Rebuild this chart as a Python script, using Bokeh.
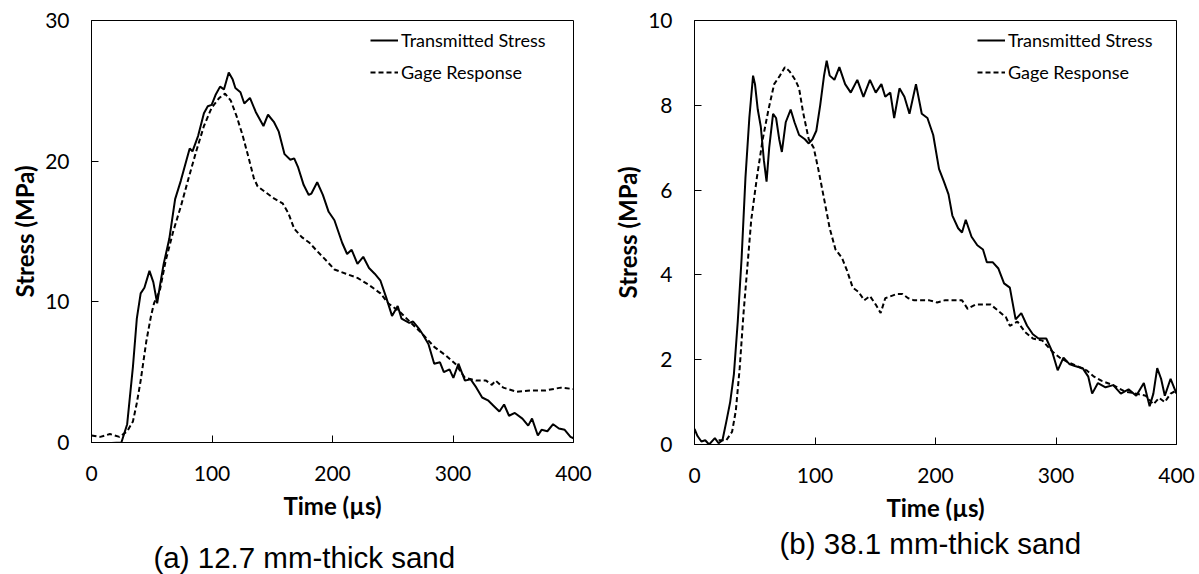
from bokeh.plotting import figure
from bokeh.layouts import row
from bokeh.models import Range1d, Legend, LegendItem, FixedTicker, Title
from bokeh.embed import file_html
from bokeh.resources import INLINE

# ---- Panel (a): 12.7 mm-thick sand ----
a_trans_t = [0, 24.8, 29.6, 34.4, 37.6, 40.8, 43.9, 48.1, 51.3, 54.5, 56.7, 59.9, 64.6, 69.4, 74.1, 78.9, 81.5,
             83.8, 88.5, 93.3, 96.5, 99.7, 102.9, 106.7, 109.9, 113.9, 117.2, 119.4, 123.6, 126.8, 131.5, 136.3,
             142.7, 146.5, 151.3, 155.4, 160.2, 165.0, 168.2, 171.3, 176.1, 180.3, 182.5, 187.3, 192.0, 196.8,
             201.6, 204.8, 208.0, 212.1, 215.9, 220.7, 225.5, 230.3, 235.0, 239.8, 244.6, 249.4, 254.1, 257.3,
             263.7, 266.9, 271.7, 274.8, 279.6, 284.4, 289.2, 292.4, 297.1, 300.3, 304.5, 309.9, 314.6, 319.4,
             324.2, 329.0, 333.8, 338.5, 342.4, 346.5, 351.3, 357.6, 362.4, 365.6, 370.4, 373.5, 378.3, 383.1,
             387.9, 392.7, 397.5, 400]
a_trans_s = [-0.1, 0.0, 1.3, 5.4, 8.8, 10.6, 11.0, 12.2, 11.4, 9.9, 11.1, 12.7, 14.5, 17.3, 18.6, 20.1, 20.9,
             20.7, 21.8, 23.4, 23.9, 24.0, 24.7, 25.3, 25.1, 26.3, 25.8, 25.2, 24.9, 24.1, 24.5, 23.5,
             22.5, 23.3, 22.8, 22.1, 20.5, 20.1, 20.2, 19.6, 18.3, 17.6, 17.7, 18.5, 17.6, 16.4,
             15.8, 15.0, 14.2, 13.4, 13.7, 12.7, 13.2, 12.4, 12.0, 11.5, 10.3, 9.0, 9.7, 8.8,
             8.5, 8.6, 8.1, 7.7, 7.0, 5.6, 5.7, 5.0, 5.2, 4.6, 5.6, 4.4, 4.5, 3.9,
             3.2, 3.0, 2.6, 2.2, 2.7, 1.9, 2.1, 1.7, 1.2, 1.7, 0.5, 0.9, 0.8, 1.3,
             1.0, 0.9, 0.4, 0.3]
a_gage_t = [0, 7.3, 15.3, 23.2, 29.6, 34.4, 37.6, 40.8, 45.5, 49.4, 51.9, 56.7, 61.5, 67.8, 74.2, 80.6, 86.9,
            93.3, 99.7, 106.1, 110.8, 115.6, 120.4, 125.2, 129.9, 134.7, 137.9, 144.3, 150.6, 158.6, 163.4,
            168.2, 174.5, 180.9, 187.3, 195.2, 201.6, 211.1, 220.7, 230.3, 239.8, 246.2, 255.7, 265.3, 274.8,
            284.4, 293.9, 301.9, 309.9, 319.4, 327.4, 332.2, 335.4, 341.7, 352.9, 364.0, 376.8, 389.5, 400]
a_gage_s = [0.5, 0.4, 0.6, 0.4, 0.8, 1.5, 2.8, 4.4, 7.2, 9.0, 9.9, 10.8, 12.9, 15.0, 16.8, 18.8, 20.7,
            22.5, 23.8, 24.5, 24.8, 24.3, 23.2, 21.9, 20.4, 18.8, 18.2, 17.8, 17.4, 17.0, 16.3,
            15.2, 14.6, 14.2, 13.6, 12.9, 12.3, 12.0, 11.7, 11.2, 10.6, 9.9, 9.3, 8.5, 7.7,
            6.8, 6.2, 5.6, 4.6, 4.4, 4.4, 4.1, 4.4, 3.9, 3.6, 3.7, 3.7, 3.9, 3.8]

# ---- Panel (b): 38.1 mm-thick sand ----
b_trans_t = [0, 2.5, 5.7, 8.9, 12.1, 16.9, 20.0, 23.2, 26.4, 29.6, 32.7, 35.9, 39.1, 42.3, 45.5, 48.6, 50.2,
             52.5, 55.0, 57.6, 59.8, 62.0, 65.2, 67.7, 70.3, 72.5, 75.7, 79.8, 83.0, 86.8, 91.6, 94.8, 97.9,
             101.1, 104.3, 107.5, 109.7, 112.2, 116.1, 120.2, 125.0, 129.7, 135.1, 140.2, 145.6, 150.4, 155.1,
             158.3, 162.5, 165.7, 170.1, 174.2, 178.4, 183.8, 188.6, 193.3, 198.1, 202.9, 207.0, 210.8, 214.0,
             218.8, 222.0, 225.1, 229.9, 234.7, 239.4, 242.6, 247.4, 252.2, 256.9, 261.7, 266.5, 271.2, 276.0,
             280.8, 285.5, 291.9, 296.7, 301.4, 306.2, 311.0, 315.7, 322.1, 326.8, 330.0, 334.8, 341.1, 347.5,
             353.8, 360.2, 366.6, 372.9, 377.7, 380.8, 384.0, 387.2, 390.3, 395.1, 400]
b_trans_s = [0.37, 0.2, 0.07, 0.1, 0.0, 0.15, 0.03, 0.1, 0.54, 1.0, 1.66, 2.9, 4.4, 6.3, 7.7, 8.7, 8.5,
             7.9, 7.5, 6.7, 6.2, 7.0, 7.8, 7.7, 7.2, 6.9, 7.6, 7.9, 7.6, 7.3, 7.2, 7.1, 7.2,
             7.4, 8.0, 8.7, 9.05, 8.7, 8.6, 8.9, 8.5, 8.3, 8.6, 8.2, 8.6, 8.3, 8.5,
             8.2, 8.3, 7.7, 8.4, 8.2, 7.8, 8.5, 7.8, 7.7, 7.3, 6.5, 6.2, 5.9, 5.4,
             5.1, 5.0, 5.3, 4.9, 4.7, 4.6, 4.3, 4.3, 4.15, 3.8, 3.7, 2.95, 3.1, 2.8,
             2.6, 2.5, 2.5, 2.2, 1.75, 2.05, 1.9, 1.85, 1.8, 1.6, 1.2, 1.45, 1.35, 1.4,
             1.2, 1.3, 1.15, 1.45, 0.9, 1.2, 1.8, 1.55, 1.15, 1.55, 1.2]
b_gage_t = [20.0, 26.4, 31.2, 34.3, 37.5, 40.7, 43.9, 47.1, 51.8, 56.6, 61.4, 66.1, 70.9, 75.0, 78.9, 83.6,
            86.8, 90.0, 94.8, 98.9, 102.7, 107.5, 112.2, 117.0, 122.4, 126.6, 131.3, 136.1, 140.9, 145.6,
            150.4, 154.5, 158.3, 163.1, 167.9, 172.6, 177.4, 182.2, 188.6, 194.9, 201.3, 207.6, 215.6,
            222.0, 226.7, 233.1, 239.4, 245.8, 252.2, 258.5, 261.7, 268.0, 274.4, 280.8, 288.7, 296.7,
            303.0, 309.4, 317.3, 325.3, 331.6, 338.0, 347.5, 357.1, 366.6, 374.5, 380.8, 385.6, 390.3,
            395.1, 398.4]
b_gage_s = [0.1, 0.1, 0.3, 0.8, 1.8, 3.1, 4.2, 5.3, 6.3, 7.2, 7.9, 8.5, 8.7, 8.9, 8.8, 8.6,
            8.4, 7.85, 7.2, 7.0, 6.5, 5.8, 5.1, 4.6, 4.4, 4.1, 3.7, 3.6, 3.4, 3.5,
            3.3, 3.1, 3.45, 3.5, 3.55, 3.55, 3.45, 3.4, 3.4, 3.4, 3.35, 3.4, 3.4,
            3.4, 3.2, 3.3, 3.3, 3.3, 3.15, 3.0, 2.8, 2.9, 2.65, 2.5, 2.45, 2.2,
            2.05, 1.95, 1.85, 1.75, 1.6, 1.5, 1.4, 1.25, 1.2, 1.15, 0.95, 1.1, 1.0,
            1.2, 1.25]

x_ticks = [0, 100, 200, 300, 400]
a_y_ticks = [0, 10, 20, 30]
b_y_ticks = [0, 2, 4, 6, 8, 10]
legend_labels = ["Transmitted Stress", "Gage Response"]
captions = ["(a) 12.7 mm-thick sand", "(b) 38.1 mm-thick sand"]

FONT = "Lato"
TOTAL_H = 572


def make_panel(bl, br, bt, fh, ymax, yticks, tt, ts, gt, gs, caption, cap_off, cap_standoff, leg_xy):
    p = figure(frame_width=482, frame_height=fh, output_backend="svg", toolbar_location=None,
               x_range=Range1d(0, 400), y_range=Range1d(0, ymax),
               min_border_left=bl, min_border_right=br, min_border_top=bt,
               min_border_bottom=TOTAL_H - bt - fh)
    p.grid.visible = False
    p.outline_line_color = "black"
    p.outline_line_alpha = 1.0
    p.outline_line_width = 1
    for ax in (p.xaxis[0], p.yaxis[0]):
        ax.major_tick_in = 7
        ax.major_tick_out = 0
        ax.minor_tick_in = 0
        ax.minor_tick_out = 0
        ax.axis_line_color = "black"
        ax.major_tick_line_color = "black"
        ax.major_label_text_font = FONT
        ax.major_label_text_font_size = "21px"
        ax.major_label_text_color = "black"
        ax.axis_label_text_font = FONT
        ax.axis_label_text_font_style = "bold"
        ax.axis_label_text_font_size = "24px"
        ax.axis_label_text_color = "black"
    p.xaxis.ticker = FixedTicker(ticks=x_ticks)
    p.yaxis.ticker = FixedTicker(ticks=yticks)
    p.xaxis.axis_label = "Time (µs)"
    p.yaxis.axis_label = "Stress (MPa)"
    p.xaxis.major_label_standoff = 23
    p.yaxis.major_label_standoff = 22
    p.xaxis.axis_label_standoff = 7
    p.yaxis.axis_label_standoff = 3

    r1 = p.line(tt, ts, line_color="black", line_width=2)
    r2 = p.line(gt, gs, line_color="black", line_width=2, line_dash="5 3")
    leg = Legend(items=[LegendItem(label=legend_labels[0], renderers=[r1]),
                        LegendItem(label=legend_labels[1], renderers=[r2])],
                 location=leg_xy, border_line_color=None, background_fill_alpha=0,
                 padding=0, spacing=10, glyph_width=28, glyph_height=20, label_height=20,
                 label_standoff=3, label_text_font=FONT, label_text_font_size="18px",
                 label_text_color="black")
    p.add_layout(leg)
    p.add_layout(Title(text=caption, align="left", offset=cap_off, standoff=cap_standoff,
                       text_font="Liberation Sans", text_font_size="29.5px",
                       text_font_style="normal", text_color="black"), "below")
    return p


p1 = make_panel(91, 30, 20, 422, 30, a_y_ticks, a_trans_t, a_trans_s, a_gage_t, a_gage_s,
                captions[0], 62, 32, (279, 359))
p2 = make_panel(91, 23, 20, 424, 10, b_y_ticks, b_trans_t, b_trans_s, b_gage_t, b_gage_s,
                captions[1], 85, 1, (283, 361))

layout = row(p1, p2)
open("out.html", "w").write(file_html(layout, INLINE))
